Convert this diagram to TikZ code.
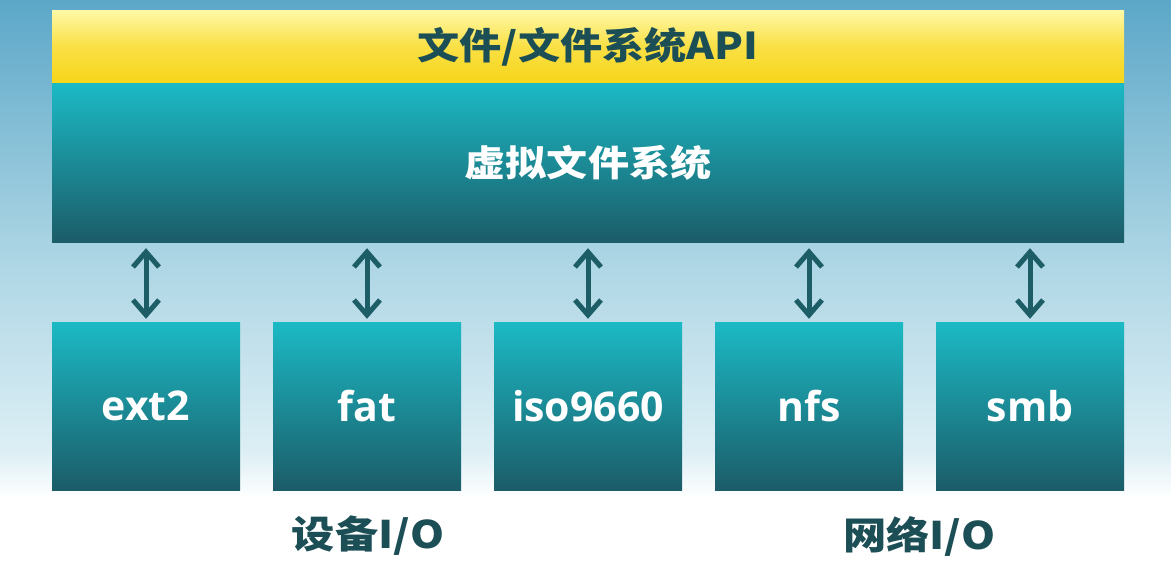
\documentclass[tikz,border=0pt]{standalone}
\usepackage{fontspec}
\usetikzlibrary{arrows.meta}
\newfontfamily\cjk{Noto Sans CJK SC}
\newfontfamily\cjkwide{Noto Sans CJK SC}[FakeStretch=1.14]
\newfontfamily\lat{Open Sans}

\definecolor{bgtop}{HTML}{5CA7C8}
\definecolor{bgmid}{HTML}{AAD4E3}
\definecolor{bglow}{HTML}{DDEFF5}
\definecolor{apitop}{HTML}{FFF9A8}
\definecolor{apibot}{HTML}{F7D51A}
\definecolor{tealtop}{HTML}{1BBAC5}
\definecolor{tealbot}{HTML}{1B5C68}
\definecolor{ink}{HTML}{1C4E56}
\definecolor{arrowc}{HTML}{1C5D66}

% the part from 25bp to 75bp covers the path, bottom to top
\pgfdeclareverticalshading{pagebg}{100bp}{%
  color(0bp)=(white); color(31bp)=(white); color(35bp)=(bglow);
  color(53bp)=(bgmid); color(75bp)=(bgtop); color(100bp)=(bgtop)}

\tikzset{
  apibar/.style={rectangle, inner sep=0pt, minimum width=1072pt, minimum height=73pt,
    top color=apitop, bottom color=apibot, middle color=apibot!70!apitop,
    font=\cjkwide\bfseries\fontsize{37pt}{40pt}\selectfont, text=ink},
  vfsbox/.style={rectangle, inner sep=0pt, minimum width=1072pt, minimum height=159pt,
    top color=tealtop, bottom color=tealbot,
    font=\cjkwide\bfseries\fontsize{36pt}{40pt}\selectfont, text=white},
  fsbox/.style={rectangle, inner sep=0pt, minimum width=188pt, minimum height=168pt,
    top color=tealtop, bottom color=tealbot,
    font=\lat\bfseries\fontsize{41pt}{44pt}\selectfont, text=white},
  iolabel/.style={font=\cjkwide\bfseries\fontsize{38pt}{40pt}\selectfont, text=ink},
  barb/.tip={Straight Barb[length=15pt,width=26pt,line width=5pt,line join=miter]},
  link/.style={draw=arrowc, line width=5pt, barb-barb,
    shorten <=6pt, shorten >=3pt}
}

\begin{document}
\begin{tikzpicture}[x=1pt,y=-1pt]
  \useasboundingbox (0,0) rectangle (1171,566);
  % page background
  \shade[shading=pagebg] (0,0) rectangle (1171,566);

  % top layers
  \node[apibar] (api) at (588,46.5) {文件/文件系统API};
  \node[vfsbox] (vfs) at (588,162.5) {虚拟文件系统};

  % concrete file systems
  \node[fsbox] (ext2) at (146,406) {ext2};
  \node[fsbox] (fat)  at (367,406) {fat};
  \node[fsbox] (iso)  at (588,406) {iso9660};
  \node[fsbox] (nfs)  at (809,406) {nfs};
  \node[fsbox] (smb)  at (1030,406) {smb};

  % links to the virtual file system
  \foreach \n in {ext2,fat,iso,nfs,smb}
    \draw[link] (\n.north |- vfs.south) -- (\n.north);

  % group captions
  \node[iolabel] (dev) at (368,536) {设备I/O};
  \node[iolabel] (net) at (919,536) {网络I/O};
\end{tikzpicture}
\end{document}
